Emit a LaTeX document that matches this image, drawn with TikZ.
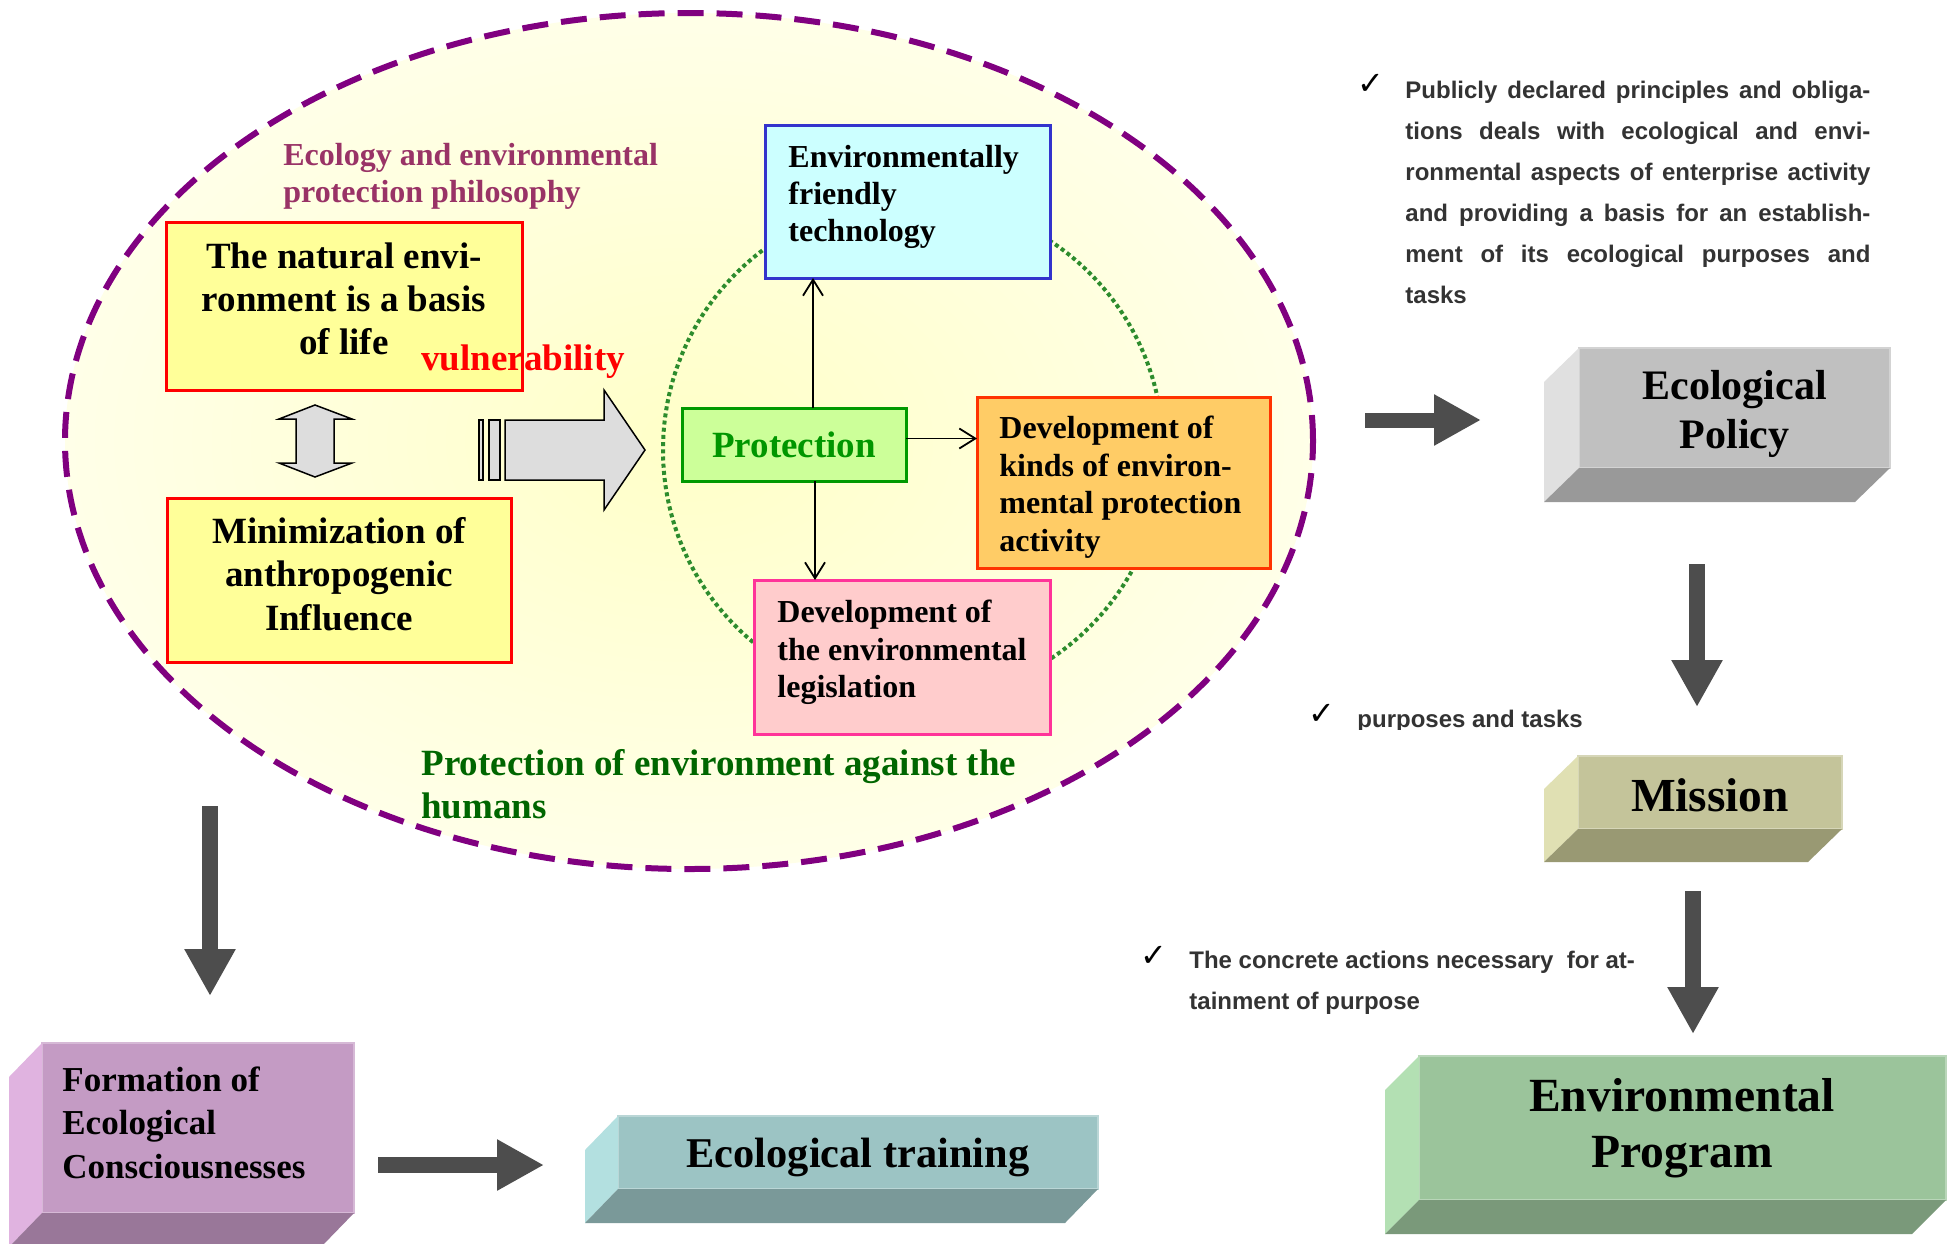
\documentclass[tikz,border=0pt]{standalone}
\usepackage{fontspec}
\setmainfont{Liberation Serif}
\setsansfont{Liberation Sans}
\newfontfamily\checkfont{DejaVu Sans}
\usetikzlibrary{arrows.meta,shapes.geometric,calc}
\definecolor{ellpurple}{RGB}{128,0,128}
\definecolor{ellin}{RGB}{255,255,200}
\definecolor{ellout}{RGB}{255,255,232}
\definecolor{dotgreen}{RGB}{45,140,45}
\definecolor{philo}{RGB}{153,51,102}
\definecolor{protgreen}{RGB}{0,150,0}
\definecolor{darkgreen}{RGB}{0,102,0}
\definecolor{arrowgray}{RGB}{77,77,77}
\definecolor{paragray}{RGB}{51,51,51}
\definecolor{natfill}{RGB}{255,255,153}
\definecolor{bluedraw}{RGB}{51,51,204}
\definecolor{bluefill}{RGB}{204,255,255}
\definecolor{protdraw}{RGB}{0,153,0}
\definecolor{protfill}{RGB}{204,255,153}
\definecolor{orgdraw}{RGB}{255,51,0}
\definecolor{orgfill}{RGB}{255,204,102}
\definecolor{pinkdraw}{RGB}{255,51,153}
\definecolor{pinkfill}{RGB}{255,204,204}
\definecolor{blockgray}{RGB}{221,221,221}
\definecolor{polF}{RGB}{192,192,192}\definecolor{polL}{RGB}{224,224,224}\definecolor{polB}{RGB}{153,153,153}
\definecolor{misF}{RGB}{196,196,154}\definecolor{misL}{RGB}{224,224,179}\definecolor{misB}{RGB}{153,153,115}
\definecolor{epF}{RGB}{155,196,155}\definecolor{epL}{RGB}{179,224,179}\definecolor{epB}{RGB}{122,153,122}
\definecolor{trF}{RGB}{156,196,196}\definecolor{trL}{RGB}{179,224,224}\definecolor{trB}{RGB}{122,153,153}
\definecolor{foF}{RGB}{196,155,196}\definecolor{foL}{RGB}{224,179,224}\definecolor{foB}{RGB}{153,119,153}
\newcommand\myfs[2]{\fontsize{#1}{#2}\selectfont\bfseries}
\newcommand\sidefaces[5]{%
  \fill[#2] (#1.north west) -- ($(#1.north west)+(#4,#5)$) -- ($(#1.south west)+(#4,#5)$) -- (#1.south west) -- cycle;
  \fill[#3] (#1.south west) -- (#1.south east) -- ($(#1.south east)+(#4,#5)$) -- ($(#1.south west)+(#4,#5)$) -- cycle;}
\begin{document}
\begin{tikzpicture}[x=0.5pt,y=-0.5pt,
  fbox/.style={draw, line width=1.5pt, inner sep=0, outer sep=0},
  txt/.style={inner sep=0},
  frontface/.style={inner sep=0, outer sep=0},
  thinarr/.style={line width=0.9pt, -{Straight Barb[length=8pt,width=10pt]}},
  bigarr/.style={draw=arrowgray, line width=8pt, -{Triangle[length=23.5pt,width=24pt]}},
  block/.style={fill=blockgray, draw=black, line width=0.75pt, line join=miter},
  para/.style={inner sep=0, align=left, text=paragray, font=\sffamily\myfs{12}{20.5}},
  tick/.style={inner sep=0, font=\checkfont\bfseries\fontsize{16}{16}\selectfont}]
\fill[white] (0,0) rectangle (1952,1243);
\useasboundingbox (0,0) rectangle (1952,1243);

% big ellipse
\node[ellipse, draw=ellpurple, line width=3pt, dash pattern=on 13pt off 6.5pt,
  inner color=ellin, outer color=ellout, minimum width=624pt, minimum height=428pt, inner sep=0] (ell) at (689,441) {};
% dotted ring
\node[circle, draw=dotgreen, line width=2pt, dash pattern=on 2pt off 1.6pt,
  minimum size=250pt, inner sep=0] (ring) at (913,450) {};

\node[txt, anchor=north west, align=left, text=philo, font=\myfs{16}{18.5}] (philo) at (283,143)
  {Ecology and environmental\\protection philosophy};

% left boxes
\node[fbox, draw=red, fill=natfill, minimum width=178pt, minimum height=84pt] (nat) at (344,306) {};
\node[txt, anchor=north, align=center, font=\myfs{18.5}{21.5}] (natt) at (344,242)
  {The natural envi-\\ronment is a basis\\of life};
\node[fbox, draw=red, fill=natfill, minimum width=172pt, minimum height=82pt] (min) at (339,580) {};
\node[txt, anchor=north, align=center, font=\myfs{18.5}{21.75}] (mint) at (339,517)
  {Minimization of\\anthropogenic\\Influence};
\node[txt, anchor=base west, text=red, font=\myfs{18.5}{22}] (vul) at (421,370) {vulnerability};

% block arrows
\draw[block] (315,405) -- (352,419) -- (334,419) -- (334,463) -- (352,463) -- (315,477)
  -- (279,463) -- (296,463) -- (296,419) -- (279,419) -- cycle;
\draw[block] (479,420) rectangle (483,480);
\draw[block] (489,420) rectangle (500,480);
\draw[block] (505,420) -- (604,420) -- (604,390) -- (645,450) -- (604,510) -- (604,480) -- (505,480) -- cycle;

% protection cluster
\node[fbox, draw=bluedraw, fill=bluefill, minimum width=142.5pt, minimum height=76.5pt] (blue) at (907.5,201.5) {};
\node[txt, anchor=north west, align=left, font=\myfs{16}{18.5}] (bluet) at (788,145)
  {Environmentally\\friendly\\technology};
\node[fbox, draw=protdraw, fill=protfill, minimum width=112pt, minimum height=36.5pt] (prot) at (794,444.5) {};
\node[txt, anchor=base, text=protgreen, font=\myfs{18.5}{22}] (prott) at (794,457) {Protection};
\node[fbox, draw=orgdraw, fill=orgfill, minimum width=146.5pt, minimum height=85.5pt] (org) at (1123.5,482.5) {};
\node[txt, anchor=north west, align=left, font=\myfs{16}{18.75}] (orgt) at (999,416)
  {Development of\\kinds of environ-\\mental protection\\activity};
\node[fbox, draw=pinkdraw, fill=pinkfill, minimum width=148pt, minimum height=77pt] (pink) at (902,657) {};
\node[txt, anchor=north west, align=left, font=\myfs{16}{18.75}] (pinkt) at (777,600)
  {Development of\\the environmental\\legislation};

\coordinate (pa) at ($(prot.north)+(19,0)$);
\draw[thinarr] (pa) -- (pa |- blue.south);
\coordinate (pb) at ($(prot.south)+(21,0)$);
\draw[thinarr] (pb) -- (pb |- pink.north);
\coordinate (pc) at ($(prot.east)+(0,-6)$);
\draw[thinarr] (pc) -- (pc -| org.west);

\node[txt, anchor=north west, align=left, text=darkgreen, font=\myfs{18.5}{21.5}] (against) at (421,749)
  {Protection of environment against the\\humans};

% 3D boxes
\node[frontface, fill=polF, draw=polF!70!white, line width=1pt, minimum width=155.5pt, minimum height=60pt] (pol) at (1734.5,408) {};
\sidefaces{pol}{polL}{polB}{-35}{34}
\node[txt, anchor=north, align=center, font=\myfs{21}{24.5}] (polt) at (1734.5,370) {Ecological\\Policy};

\node[frontface, fill=misF, draw=misF!70!white, line width=1pt, minimum width=132pt, minimum height=36.5pt] (mis) at (1710,792.5) {};
\sidefaces{mis}{misL}{misB}{-34}{33}
\node[txt, anchor=base, font=\myfs{23.7}{28}] (mist) at (1710,811) {Mission};

\node[frontface, fill=epF, draw=epF!70!white, line width=1pt, minimum width=263.5pt, minimum height=72pt] (ep) at (1682.5,1128) {};
\sidefaces{ep}{epL}{epB}{-34}{34}
\node[txt, anchor=north, align=center, font=\myfs{23.8}{28}] (ept) at (1682,1078) {Environmental\\Program};

\node[frontface, fill=trF, draw=trF!70!white, line width=1pt, minimum width=240pt, minimum height=36.5pt] (tr) at (858,1152.5) {};
\sidefaces{tr}{trL}{trB}{-33}{34}
\node[txt, anchor=base, font=\myfs{21.2}{25}] (trt) at (858,1167) {Ecological training};

\node[frontface, fill=foF, draw=foF!70!white, line width=1pt, minimum width=156pt, minimum height=85pt] (fo) at (198,1128) {};
\sidefaces{fo}{foL}{foB}{-33}{34}
\node[txt, anchor=north west, align=left, font=\myfs{17.5}{21.75}] (fot) at (62,1066)
  {Formation of\\Ecological\\Consciousnesses};

% big dark arrows
\draw[bigarr, line width=7.5pt] ($(ell.east)+(49,-21)$) -- ($(pol.west)+(-98,12)$);
\draw[bigarr] ($(pol.south)+(-37.5,96)$) -- ($(mis.north)+(-13,-49)$);
\draw[bigarr] ($(mis.south)+(-17,62)$) -- ($(ep.north)+(10.5,-22)$);
\draw[bigarr] ($(ell.south)+(-479,-66)$) -- ($(fo.north)+(12,-47)$);
\draw[bigarr] ($(fo.east)+(24,37)$) -- ($(tr.west)+(-74,12.5)$);

% right-hand texts
\node[tick] (ck1) at (1371,84) {✓};
\node[para, anchor=north west] (para1) at (1405,80.5)
  {\makebox[232.5pt][s]{Publicly declared principles and obliga-}\\
   \makebox[232.5pt][s]{tions deals with ecological and envi-}\\
   \makebox[232.5pt][s]{ronmental aspects of enterprise activity}\\
   \makebox[232.5pt][s]{and providing a basis for an establish-}\\
   \makebox[232.5pt][s]{ment of its ecological purposes and}\\
   tasks};
\node[tick] (ck2) at (1322,714) {✓};
\begin{scope}
\clip (1340,690) rectangle (1620,729);
\node[para, anchor=base west] (para2) at (1357,727) {purposes and tasks};
\end{scope}
\node[tick] (ck3) at (1154,956) {✓};
\node[para, anchor=north west] (para3) at (1189,950.5)
  {The concrete actions necessary\ \ for at-\\tainment of purpose};
\end{tikzpicture}
\end{document}
